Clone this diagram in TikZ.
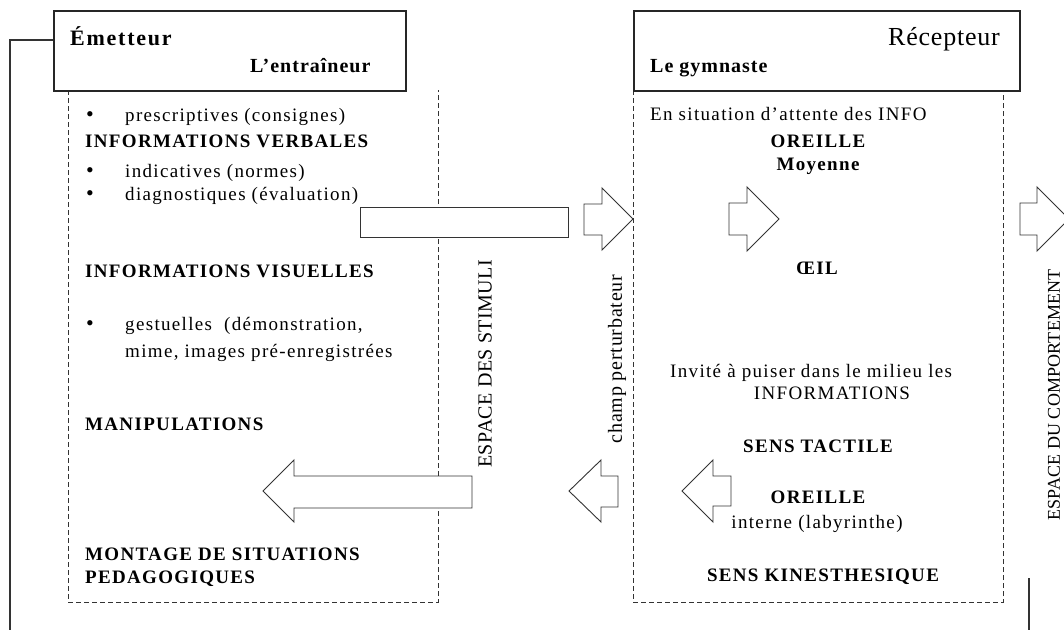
\documentclass[tikz,border=0pt]{standalone}
\usepackage{fontspec}
\setmainfont{Liberation Serif}
\newcommand{\ls}[1]{\addfontfeatures{LetterSpace=#1}}
\begin{document}
\begin{tikzpicture}[x=1pt,y=-1pt,
  solidbox/.style={draw=black!85, line width=1.6pt, fill=white},
  dashbox/.style={draw=black!80, line width=0.9pt, dash pattern=on 5pt off 3pt},
  solidline/.style={draw=black!80, line width=1.2pt},
  blockarrow/.style={draw=black!80, line width=0.9pt, fill=white, line join=miter},
  body/.style={font=\fontsize{19}{22}\selectfont\ls{7}, inner sep=0pt},
  bbody/.style={font=\fontsize{19}{22}\selectfont\bfseries\ls{7}, inner sep=0pt},
  bullet/.style={font=\fontsize{22}{22}\selectfont, inner sep=0pt},
  vert/.style={inner sep=0pt, rotate=90},
]
\useasboundingbox (0,0) rectangle (1064,630);
\fill[white] (0,0) rectangle (1064,630);

% ---- dashed zones
\draw[dashbox] (68,90) -- (68,602) -- (438,602) -- (438,90);
\draw[dashbox] (633,90) -- (633,602) -- (1003,602) -- (1003,90);

% ---- header boxes
\node[solidbox, minimum width=352pt, minimum height=80pt, anchor=north west] (emhead) at (53,10) {};
\node[solidbox, minimum width=386pt, minimum height=80pt, anchor=north west] (rechead) at (633,10) {};

% ---- frame lines
\coordinate (emhook) at (53,40);
\coordinate (leftcorner) at (10,40);
\coordinate (leftend) at (10,630);
\draw[solidline] (emhook) -- (leftcorner) -- (leftend);
\coordinate (rtop) at (1029,578);
\coordinate (rend) at (1029,630);
\draw[solidline] (rtop) -- (rend);

% ---- block arrows
\draw[blockarrow] (360,207) rectangle (568,237);
\draw[blockarrow] (584,204) -- (602,204) -- (602,188) -- (633,219) -- (602,250) -- (602,235) -- (584,235) -- cycle;
\draw[blockarrow] (729,203) -- (747,203) -- (747,187) -- (779,219) -- (747,251) -- (747,235) -- (729,235) -- cycle;
\draw[blockarrow] (1020,203) -- (1037,203) -- (1037,187) -- (1069,219) -- (1037,251) -- (1037,235) -- (1020,235) -- cycle;
\draw[blockarrow] (472,476) -- (294,476) -- (294,460) -- (263,491) -- (294,522) -- (294,508) -- (472,508) -- cycle;
\draw[blockarrow] (618,476) -- (601,476) -- (601,460) -- (569,491) -- (601,522) -- (601,507) -- (618,507) -- cycle;
\draw[blockarrow] (731,476) -- (713,476) -- (713,460) -- (682,491) -- (713,522) -- (713,506) -- (731,506) -- cycle;

% ---- header texts
\node[inner sep=0pt, anchor=base west, font=\fontsize{22}{26}\selectfont\bfseries\ls{8}] (emt) at (70,45) {Émetteur};
\node[inner sep=0pt, anchor=base west, font=\fontsize{20}{24}\selectfont\bfseries\ls{5}] (entr) at (250,72) {L’entraîneur};
\node[inner sep=0pt, anchor=base east, font=\fontsize{26}{30}\selectfont\ls{3}] (rect) at (1000,45) {Récepteur};
\node[inner sep=0pt, anchor=base west, font=\fontsize{20}{24}\selectfont\bfseries\ls{5}] (gym) at (650,72) {Le gymnaste};

% ---- emitter contents
\node[bullet, anchor=base] (b1) at (90,121) {•};
\node[body, anchor=base west] (t1) at (125,121) {prescriptives (consignes)};
\node[bbody, anchor=base west] (iv) at (85,147) {INFORMATIONS VERBALES};
\node[bullet, anchor=base] (b2) at (90,177) {•};
\node[body, anchor=base west] (t2) at (125,177) {indicatives (normes)};
\node[bullet, anchor=base] (b3) at (90,200) {•};
\node[body, anchor=base west] (t3) at (125,200) {diagnostiques (évaluation)};
\node[bbody, anchor=base west] (ivis) at (85,277) {INFORMATIONS VISUELLES};
\node[bullet, anchor=base] (b4) at (90,330) {•};
\node[body, anchor=base west] (t4) at (125,330) {gestuelles \ (démonstration,};
\node[body, anchor=base west] (t5) at (125,357) {mime, images pré-enregistrées};
\node[bbody, anchor=base west] (manip) at (85,430) {MANIPULATIONS};
\node[bbody, anchor=base west] (mont1) at (85,560) {MONTAGE DE SITUATIONS};
\node[bbody, anchor=base west] (mont2) at (85,583) {PEDAGOGIQUES};

% ---- receiver contents
\node[body, anchor=base west] (att) at (650,120) {En situation d’attente des INFO};
\node[bbody, anchor=base] (or1) at (818,147) {OREILLE};
\node[bbody, anchor=base] (moy) at (818,170) {Moyenne};
\node[bbody, anchor=base] (oeil) at (817,274) {ŒIL};
\node[body, anchor=base west] (inv) at (670,377) {Invité à puiser dans le milieu les};
\node[body, anchor=base] (infs) at (832,399) {INFORMATIONS};
\node[bbody, anchor=base] (tact) at (818,452) {SENS TACTILE};
\node[bbody, anchor=base] (or2) at (818,503) {OREILLE};
\node[body, anchor=base] (lab) at (817,528) {interne (labyrinthe)};
\node[bbody, anchor=base] (kin) at (823,581) {SENS KINESTHESIQUE};

% ---- vertical labels
\node[vert, font=\fontsize{20}{24}\selectfont\ls{2}] (stim) at (485,364) {ESPACE DES STIMULI};
\node[vert, font=\fontsize{20}{24}\selectfont\ls{4}] (champ) at (617,359) {champ perturbateur};
\node[vert, font=\fontsize{18}{22}\selectfont\ls{1}] (comp) at (1054,395) {ESPACE DU COMPORTEMENT};
\end{tikzpicture}
\end{document}
